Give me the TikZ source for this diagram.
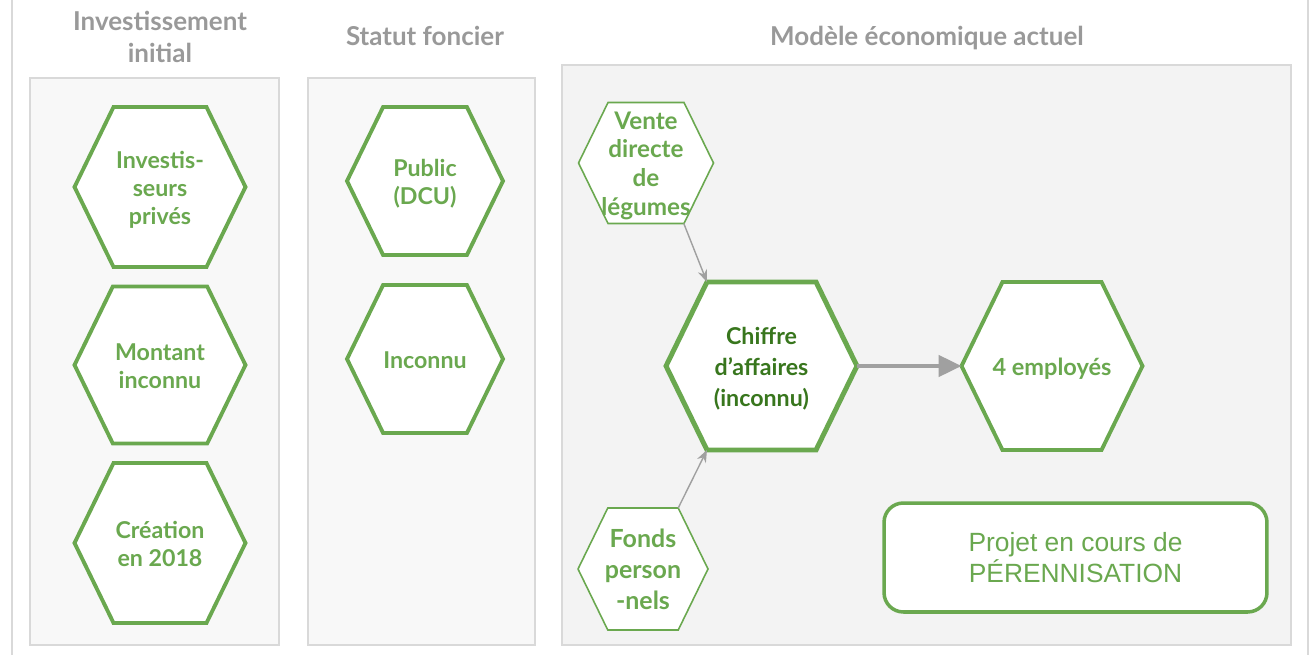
\documentclass[tikz,border=0pt]{standalone}
\usepackage{fontspec}
\setmainfont{Lato}
\newfontfamily\arialfont{Liberation Sans}
\usetikzlibrary{shapes.symbols,arrows.meta}

\definecolor{hexgreen}{HTML}{6AA84F}
\definecolor{darkgreen}{HTML}{38761D}
\definecolor{titlegrey}{HTML}{999999}
\definecolor{panelline}{HTML}{D9D9D9}
\definecolor{panelfill}{HTML}{F8F8F8}
\definecolor{mainfill}{HTML}{F3F3F3}
\definecolor{arrowgrey}{HTML}{A0A0A0}

\newcommand*{\pagew}{1311}
\newcommand*{\pageh}{655}
\newcommand*{\hexlabel}[1]{\makebox[0pt]{\raisebox{-2pt}[\height][\depth]{\begin{tabular}{@{}c@{}}#1\end{tabular}}}}

\begin{document}
\begin{tikzpicture}
[
	x=0.02cm,
	y=-0.02cm,
	panel/.style={draw=panelline, line width=0.9pt},
	title/.style={text=titlegrey, font=\bfseries\fontsize{14.8}{18}\selectfont, align=center},
	hex/.style={shape=signal, signal to=east and west, signal pointer angle=128, draw=hexgreen, fill=white, line width=2.2pt, text=hexgreen, font=\bfseries\fontsize{13.2}{16}\selectfont, inner sep=0pt, outer sep=0pt},
	thinhex/.style={hex, line width=0.9pt},
	bighex/.style={hex, line width=2.8pt},
	feed/.style={draw=arrowgrey, line width=0.8pt, -{Stealth[length=7pt,width=5.5pt]}},
	flow/.style={draw=arrowgrey, line width=2.2pt, -{Triangle[length=13pt,width=12pt]}},
	status/.style={draw=hexgreen, line width=2pt, fill=white, rounded corners=11pt, minimum width=7.66cm, minimum height=2.18cm, text=hexgreen, font=\arialfont\fontsize{15}{17.6}\selectfont, align=center}
]

	\useasboundingbox (0,0) rectangle (\pagew,\pageh);

	% page edges
	\draw[panelline, line width=1.2pt] (12,0) -- (12,\pageh);
	\draw[panelline, line width=1.2pt] (1308,0) -- (1308,\pageh);

	% panels
	\draw[panel, fill=panelfill] (30,78) rectangle (279,645);
	\draw[panel, fill=panelfill] (308,78) rectangle (535,645);
	\draw[panel, fill=mainfill] (562,65) rectangle (1291,645);

	% titles
	\node[title] (titleinvest) at (160,37) {Investissement\\initial};
	\node[title] (titlestatut) at (425,36) {Statut foncier};
	\node[title] (titlemodele) at (927,38) {Modèle économique actuel};

	% initial investment
	\node[hex, minimum width=3.42cm, minimum height=3.2cm] (invest) at (160,187) {\hexlabel{Investis-\\seurs\\privés}};
	\node[hex, minimum width=3.42cm, minimum height=3.14cm] (montant) at (160,365) {\hexlabel{Montant\\inconnu}};
	\node[hex, minimum width=3.42cm, minimum height=3.2cm] (creation) at (160,543) {\hexlabel{Création\\en 2018}};

	% land status
	\node[hex, minimum width=3.12cm, minimum height=2.96cm] (public) at (425,181) {\hexlabel{Public\\(DCU)}};
	\node[hex, minimum width=3.12cm, minimum height=2.96cm] (inconnu) at (425,359) {\hexlabel{Inconnu}};

	% economic model
	\node[thinhex, minimum width=2.7cm, minimum height=2.42cm, font=\bfseries\fontsize{13.8}{16.4}\selectfont] (vente) at (646,163) {\hexlabel{Vente\\directe\\de\\légumes}};
	\node[thinhex, minimum width=2.6cm, minimum height=2.44cm, font=\bfseries\fontsize{14.2}{17.6}\selectfont] (fonds) at (643,569) {\hexlabel{Fonds\\person\\-nels}};
	\node[bighex, minimum width=3.82cm, minimum height=3.36cm, text=darkgreen, font=\bfseries\fontsize{13.2}{17.5}\selectfont] (chiffre) at (761.5,366) {\hexlabel{Chiffre\\d’affaires\\(inconnu)}};
	\node[hex, minimum width=3.62cm, minimum height=3.36cm, font=\bfseries\fontsize{13.4}{16}\selectfont] (emplois) at (1052,366) {\hexlabel{4 employés}};
	\node[status] (projet) at (1075.5,557.5) {Projet en cours de\\PÉRENNISATION};

	% links
	\draw[feed] (vente.-58.5) -- (chiffre.123.7);
	\draw[feed] (fonds.60.6) -- (chiffre.-123);
	\draw[flow] (chiffre.east) -- (emplois.west);

\end{tikzpicture}
\end{document}
